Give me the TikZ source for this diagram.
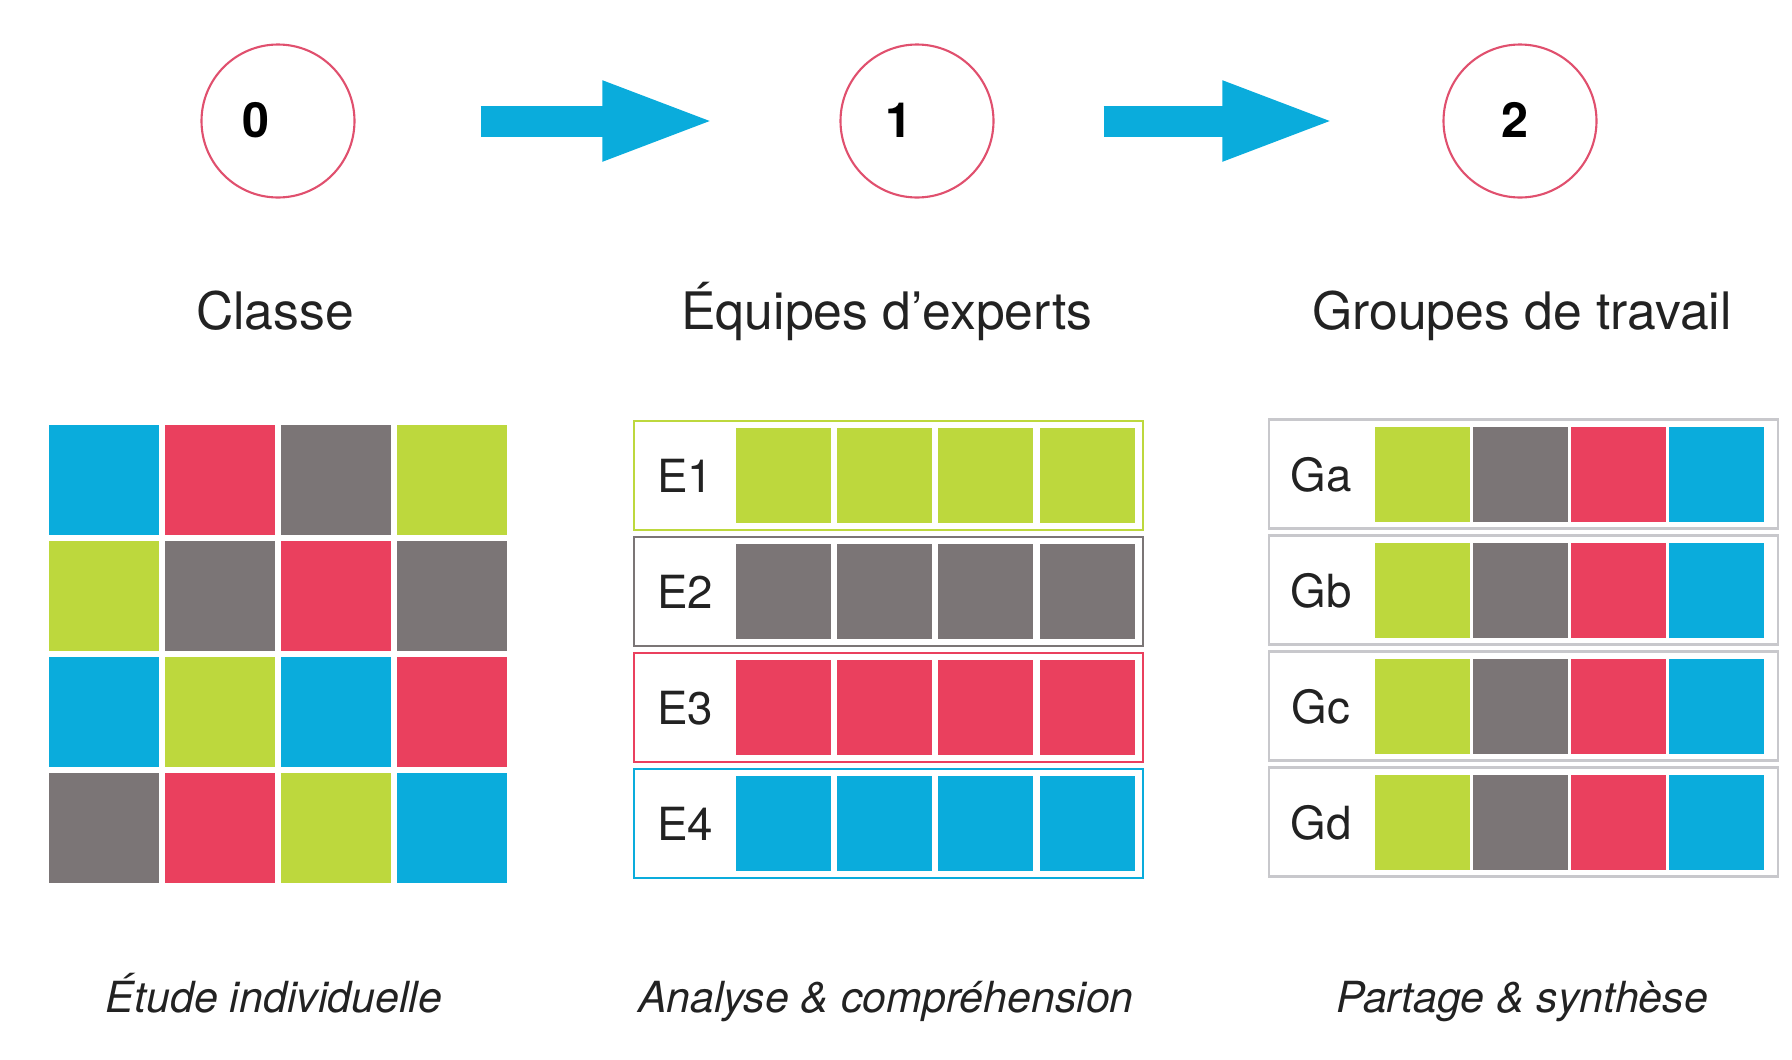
\documentclass[tikz,border=0pt]{standalone}
\usepackage{fontspec}
\setmainfont{TeX Gyre Heros}
\usepackage{tikz}
\usetikzlibrary{arrows.meta}
\definecolor{cblue}{HTML}{0AACDC}
\definecolor{cred}{HTML}{EA405E}
\definecolor{cgray}{HTML}{7B7576}
\definecolor{cgreen}{HTML}{BDD83D}
\definecolor{cring}{HTML}{E0506E}
\definecolor{cframe}{HTML}{C8C8CC}
\definecolor{ctext}{HTML}{222222}
\tikzstyle{stage}=[circle, draw=cring, line width=0.6pt, inner sep=0pt, minimum size=1.53cm]
\tikzstyle{num}=[font=\fontsize{13.8}{16}\selectfont\bfseries]
\tikzstyle{title}=[anchor=base, text=ctext, font=\fontsize{14.7}{18}\selectfont]
\tikzstyle{caption}=[anchor=base, text=ctext, font=\fontsize{12.2}{15}\selectfont\itshape]
\tikzstyle{cell}=[rectangle, inner sep=0pt, minimum size=1.10cm]
\tikzstyle{member}=[rectangle, inner sep=0pt, minimum size=0.95cm]
\tikzstyle{team}=[rectangle, draw, line width=0.8pt, fill=white, inner sep=0pt, minimum width=5.09cm, minimum height=1.09cm]
\tikzstyle{tag}=[anchor=base, text=ctext, font=\fontsize{13}{15}\selectfont]
\tikzstyle{flow}=[cblue, line width=0.31cm, -{Triangle[length=11.6mm, width=7.1mm]}]

\begin{document}
\begin{tikzpicture}
	\useasboundingbox (0,0) rectangle (17.92,-10.59);
	%% the three stages, each with its number, and the arrows between them
	\node[stage] (s0) at (2.78,-1.21) {};
	\node[stage] (s1) at (9.17,-1.21) {};
	\node[stage] (s2) at (15.20,-1.21) {};
	\node[num] (n0) at (2.555,-1.20) {0};
	\node[num] (n1) at (8.99,-1.20) {1};
	\node[num] (n2) at (15.15,-1.20) {2};
	\draw[flow, shorten <=1.25cm, shorten >=1.21cm] (s0) -- (s1);
	\draw[flow, shorten <=1.09cm, shorten >=1.04cm] (s1) -- (s2);

	%% titles above and captions below each column
	\node[title] (t0) at (2.75,-3.29) {Classe};
	\node[title] (t1) at (8.87,-3.29) {Équipes d’experts};
	\node[title] (t2) at (15.22,-3.29) {Groupes de travail};
	\node[caption] (c0) at (2.74,-10.12) {Étude individuelle};
	\node[caption] (c1) at (8.86,-10.12) {Analyse \& compréhension};
	\node[caption] (c2) at (15.22,-10.12) {Partage \& synthèse};

	%% the class: a 4x4 grid, one colour per pupil
	\foreach \colr [count=\j] in {{cblue,cred,cgray,cgreen},{cgreen,cgray,cred,cgray},
	                             {cblue,cgreen,cblue,cred},{cgray,cred,cgreen,cblue}}
		\foreach \c [count=\i] in \colr
			\node[cell, fill=\c] (k-\j-\i) at ({1.04+1.16*(\i-1)},{-4.80-1.16*(\j-1)}) {};

	%% expert teams: one colour per team
	\foreach \c [count=\j] in {cgreen,cgray,cred,cblue} {
		\node[team, draw=\c] (e\j) at (8.885,{-4.755-1.16*(\j-1)}) {};
		\node[tag] (e\j-tag) at (6.85,{-4.92-1.16*(\j-1)}) {E\j};
		\foreach \i in {1,...,4}
			\node[member, fill=\c] (e\j-\i) at ({7.835+1.012*(\i-1)},{-4.755-1.16*(\j-1)}) {};
	}

	%% work groups: one pupil of each colour
	\foreach \g [count=\j] in {a,b,c,d} {
		\node[team, draw=cframe] (g\j) at (15.235,{-4.74-1.16*(\j-1)}) {};
		\node[tag] (g\j-tag) at (13.21,{-4.91-1.16*(\j-1)}) {G\g};
		\foreach \c [count=\i] in {cgreen,cgray,cred,cblue}
			\node[member, fill=\c] (g\j-\i) at ({14.225+0.98*(\i-1)},{-4.74-1.16*(\j-1)}) {};
	}
\end{tikzpicture}
\end{document}
